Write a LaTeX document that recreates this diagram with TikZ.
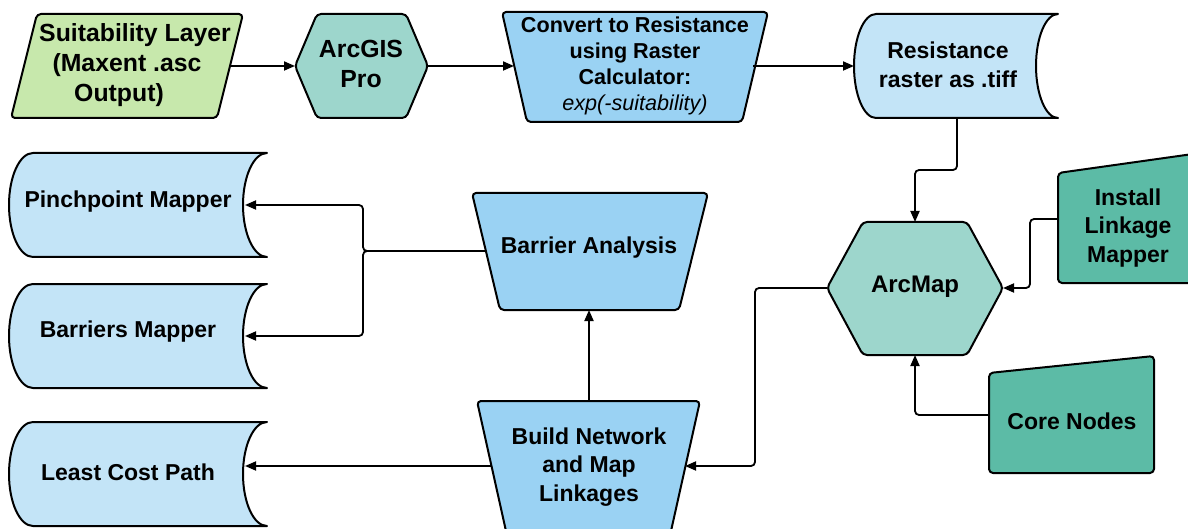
\documentclass[tikz,border=0pt]{standalone}
\usepackage{fontspec}
\setmainfont{Liberation Sans}
\usetikzlibrary{arrows.meta}
\definecolor{cgreen}{HTML}{C7E8AC}
\definecolor{cteal}{HTML}{9DD6CC}
\definecolor{cblue}{HTML}{9AD2F3}
\definecolor{cpale}{HTML}{C3E4F7}
\definecolor{cdark}{HTML}{5CBBA6}
\newcommand\storedbox[6]{%
\pgfmathsetmacro\sbm{(#2+#4)/2}%
\pgfmathsetmacro\sbh{(#4-#2)/2*0.552}%
\pgfmathsetmacro\sbk{#5*0.552}%
\pgfmathsetmacro\sbl{#1+#5}%
\pgfmathsetmacro\sbr{#3-#5}%
\draw[shp,rounded corners=0pt,fill=cpale] (\sbl,#2) -- (#3,#2) .. controls ({#3-\sbk},#2) and (\sbr,{\sbm-\sbh}) .. (\sbr,\sbm) .. controls (\sbr,{\sbm+\sbh}) and ({#3-\sbk},#4) .. (#3,#4) -- (\sbl,#4) .. controls ({\sbl-\sbk},#4) and (#1,{\sbm+\sbh}) .. (#1,\sbm) .. controls (#1,{\sbm-\sbh}) and ({\sbl-\sbk},#2) .. cycle;
\coordinate (#6-e) at (\sbr,\sbm);
\coordinate (#6-w) at (#1,\sbm);
}
\begin{document}
\begin{tikzpicture}[x=1pt,y=-1pt,
 shp/.style={draw=black,line width=2pt,line join=round,rounded corners=4pt},
 txt/.style={font=\fontsize{23}{28.5}\selectfont\bfseries,align=center,inner sep=0pt},
 bigtxt/.style={font=\fontsize{24.8}{30}\selectfont\bfseries,align=center,inner sep=0pt},
 ctxt/.style={font=\fontsize{21.6}{26}\selectfont\bfseries,align=center,inner sep=0pt},
 link/.style={draw=black,line width=1.8pt,rounded corners=4pt},
 arr/.style={link,-{Triangle[length=11pt,width=9pt]}}]
\useasboundingbox (0,0) rectangle (1188,529);
\clip (0,0) rectangle (1188,529);
\fill[white] (0,0) rectangle (1188,529);

% Suitability layer
\draw[shp,fill=cgreen] (37,14) -- (243,14) -- (217,118) -- (11,118) -- cycle;
\node[bigtxt] (suit) at (127,65) {\hspace*{16pt}Suitability Layer\\(Maxent .asc\\Output)\hspace*{16pt}};
\coordinate (suit-e) at (230,66);

% ArcGIS Pro
\draw[shp,fill=cteal] (295,66) -- (317,14) -- (406,14) -- (428,66) -- (406,118) -- (317,118) -- cycle;
\node[bigtxt] (gis) at (361,64) {ArcGIS\\Pro};
\coordinate (gis-w) at (295,66);
\coordinate (gis-e) at (428,66);

% Convert
\draw[shp,fill=cblue] (502,12) -- (768,12) -- (742,122) -- (527,122) -- cycle;
\node[ctxt] (conv) at (635,66) {Convert to Resistance\\using Raster\\Calculator:\\{\normalfont\itshape exp(-suitability)}};
\coordinate (conv-w) at (514,66);
\coordinate (conv-e) at (753,66);

% Resistance raster
\storedbox{854}{14}{1058}{118}{22}{res}
\node[txt] (resT) at (948,65) {Resistance\\raster as .tiff};
\coordinate (res-s) at (957,118);

% ArcMap
\draw[shp,fill=cteal] (827,288) -- (863,222) -- (967,222) -- (1003,288) -- (967,355) -- (863,355) -- cycle;
\node[txt,font=\fontsize{24}{28.5}\selectfont\bfseries] (am) at (915,287) {ArcMap};
\coordinate (am-n) at (915,222);
\coordinate (am-s) at (915,355);
\coordinate (am-e) at (1003,288);
\coordinate (am-w) at (827,288);

% Install Linkage Mapper
\draw[shp,fill=cdark] (1058,173) -- (1200,153) -- (1200,283) -- (1058,283) -- cycle;
\node[txt] (inst) at (1128,228) {Install\\Linkage\\Mapper};
\coordinate (inst-w) at (1058,219);

% Core Nodes
\draw[shp,fill=cdark] (989,373) -- (1154,356) -- (1154,473) -- (989,473) -- cycle;
\node[txt] (core) at (1072,421) {Core Nodes};
\coordinate (core-w) at (989,415);

% Barrier Analysis
\draw[shp,fill=cblue] (472,193) -- (708,193) -- (679,310) -- (500,310) -- cycle;
\node[txt] (ba) at (589,248) {Barrier Analysis};
\coordinate (ba-w) at (486,251);
\coordinate (ba-s) at (589,310);

% Build Network
\draw[shp,fill=cblue] (477,401) -- (700,401) -- (669,540) -- (508,540) -- cycle;
\node[txt] (bn) at (589,467) {Build Network\\and Map\\Linkages};
\coordinate (bn-n) at (589,401);
\coordinate (bn-e) at (685,466);
\coordinate (bn-w) at (492,466);

% Outputs
\storedbox{9}{153}{267}{257}{24}{pinch}
\node[txt] (pinchT) at (128,202) {Pinchpoint Mapper};
\storedbox{9}{284}{267}{388}{24}{bar}
\node[txt] (barT) at (128,332) {Barriers Mapper};
\storedbox{9}{422}{267}{526}{24}{lcp}
\node[txt] (lcpT) at (128,472) {Least Cost Path};

% Connectors
\draw[arr] (suit-e) -- (gis-w);
\draw[arr] (gis-e) -- (conv-w);
\draw[arr] (conv-e) -- (res-w);
\draw[arr] (res-s) -- (957,170) -| (am-n);
\draw[arr] (inst-w) -- (1030,219) |- (am-e);
\draw[arr] (core-w) -| (am-s);
\draw[arr] (am-w) -- (755,288) |- (bn-e);
\draw[arr] (bn-n) -- (ba-s);
\draw[arr] (ba-w) -- (363,251) |- ([xshift=2pt]pinch-e);
\draw[arr] (ba-w) -- (363,251) |- ([xshift=2pt]bar-e);
\draw[arr] (bn-w) -- ([xshift=2pt]bn-w -| lcp-e);
\end{tikzpicture}
\end{document}
